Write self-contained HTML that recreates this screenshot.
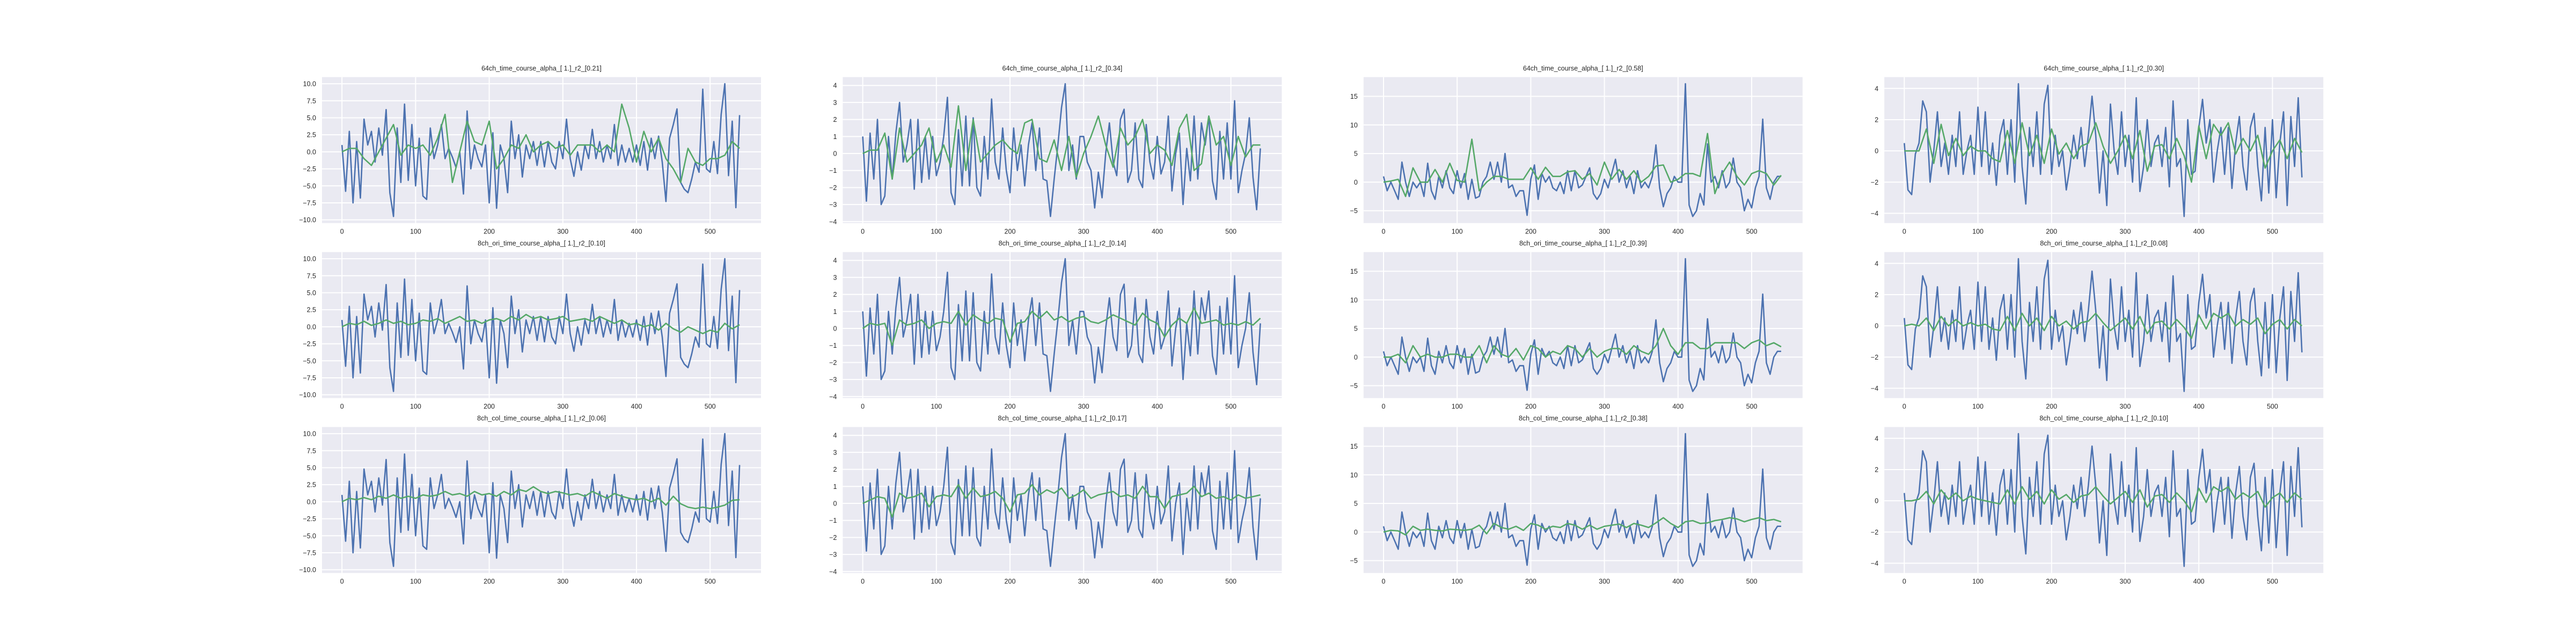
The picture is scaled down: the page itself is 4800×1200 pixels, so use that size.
<!DOCTYPE html>
<html><head><meta charset="utf-8"><style>
html,body{margin:0;padding:0;background:#fff;}
svg{display:block;font-family:"Liberation Sans",sans-serif;}
</style></head><body>
<svg id="fig" width="4800" height="1200" viewBox="0 0 4800 1200" xmlns="http://www.w3.org/2000/svg"></svg>
<script>
// ---- data ----
const titlesRow1 = ["64ch_time_course_alpha_[ 1.]_r2_[0.21]","64ch_time_course_alpha_[ 1.]_r2_[0.34]","64ch_time_course_alpha_[ 1.]_r2_[0.58]","64ch_time_course_alpha_[ 1.]_r2_[0.30]"];
const titlesRow2 = ["8ch_ori_time_course_alpha_[ 1.]_r2_[0.10]","8ch_ori_time_course_alpha_[ 1.]_r2_[0.14]","8ch_ori_time_course_alpha_[ 1.]_r2_[0.39]","8ch_ori_time_course_alpha_[ 1.]_r2_[0.08]"];
const titlesRow3 = ["8ch_col_time_course_alpha_[ 1.]_r2_[0.06]","8ch_col_time_course_alpha_[ 1.]_r2_[0.17]","8ch_col_time_course_alpha_[ 1.]_r2_[0.38]","8ch_col_time_course_alpha_[ 1.]_r2_[0.10]"];
const blueStep = 5;
const greenStep = 10;
const blueCol1 = [1,-5.8,3,-7.5,1.5,-6.8,4.8,1,3,-1.5,3.5,-0.5,6.2,-6,-9.5,3.5,-4.5,7,-4.2,4,-5,2,-6.5,-7,3.5,-1,1,4,-1,0.5,-0.8,-2.3,0,-6.2,6,-2.5,1,-1,-2.2,1,-7.5,2.8,-8.3,1,-1,-6,4.5,-1,2.5,-3.7,1,-1,1.5,-2,1.5,-2.2,1.5,-1.5,-2.5,1.5,-1,4.8,-1,-3.6,0,-2.7,1,-1,3.3,-1,1.5,-1.5,1,-1,4,-2,1,-1.5,0.5,-1.5,1,-2,1.5,-2.7,2,-1,2.3,-1.5,-7.3,2,4,6.3,-4.5,-5.5,-6,-4,-1.5,-3,9.2,-2.5,-3,1.5,-3.2,5.5,10,-3.5,4.5,-8.2,5.4];
const blueCol2 = [1,-2.8,1.2,-1.5,2,-3,-2.5,1,-1.5,1.2,3,-0.5,0.5,2,-2.1,2,-1.7,1,-1.5,1,-1.3,-0.5,1,3.3,-2.3,-3,1.4,-1.9,2.2,-1.9,2.1,-2,-2.5,1,-1.5,3.2,-0.5,-1.5,1.5,-1,-2.3,1.5,-1,0.5,-1.9,0.5,1.8,-1,1.5,-1.5,-1.6,-3.7,-1.5,0.5,2.7,4.1,-1,0.5,-1.5,1,1,-0.5,-1,-3.2,-1.1,-2.6,0,1.8,-0.5,-1.3,2,2.6,-1.7,-1,1.8,-1.5,-2,1.7,-0.5,-1.5,1,-1.2,-0.5,2.2,-2.2,0,1.2,-3,0.3,-1.6,2.2,-1.5,1.8,0.5,2.2,-1.6,-2.7,1.3,-1.5,1.8,-1.5,3.1,-2.3,-1,0,2.1,-1.4,-3.3,0.3];
const blueCol3 = [1,-1.5,0,-1.5,-3,3.5,0,-2.5,0,-1,0,-2.5,3.3,-1.5,-3,1,-1,2,-1,-2,2,-1,1.5,-3,0.5,-2.8,-2.5,0,1,3.5,0.5,3.5,0,5,-1,-0.5,-2.5,-1.5,-1.5,-5.8,0.5,3,-3,1.5,0,1,-1,-1.5,0,-2,2,-1.5,2,-1,-0.5,1,2.5,-2,-3,-2,0.5,-1,1.5,4,0,2,-1,1,-2,2,-1,0,-1,1,6.5,-1,-4.3,-2,-1,1,0,0,17.2,-4,-6,-5,-2,-4,6.7,0,1,-1,2,-1,0,4.2,0,-1,-5,-3,-4.5,-1,1,11,-1,-3,0,1,1];
const blueCol4 = [0.5,-2.5,-2.8,-0.2,0.5,3.2,2.5,-2,0,2.5,-1,0.5,-1.5,1,-1,2.5,-1.5,0,1,-1.5,2.8,-1,2.5,-1.5,0.5,-2.2,1,2,-1.5,2,-2,4.3,-1,-3.4,1.5,-1,2.5,-1.5,3,4.2,-1.5,1,-1,0,-2.5,-1,1,-0.5,1.5,-1,1,3.5,1,-2.7,0,-3.5,3,0,-1.5,2.5,-1,1,-2,3.4,-2.6,-1,2,-1,0.5,1,-1,1.5,-2.3,3.2,-1,-0.5,-4.2,2,-1.5,-1.3,1.5,3.3,0.5,2,-2,0,1.5,-1.5,1.5,-2.4,0.5,2.2,-1,-2.5,1.5,2.4,-1,-3.2,1.5,-2.7,2,-3,0.5,2.5,-3.5,2.2,-1,3.4,-1.7];
const greenR1C1 = [0,0.5,0.5,-1,-2,0,2,4,-0.5,1,0.5,1,-0.5,2,5.5,-4.5,0,4.5,1.5,1,4.5,-2.5,-1,1,0.5,2.5,0,1,1.5,0.5,1,-0.5,1,1,1,0,1,0,7,3.5,-1.5,3,0,2,-1,-2.5,-4.5,0.5,-1.5,-2,-1,-1,-0.5,1.5,0.5];
const greenR2C1 = [0,0.5,0.3,0.8,0.2,0.5,1,0.5,0.8,0.3,0.5,1,0.8,1.2,0.5,1,1.5,0.8,1,0.5,1,1.2,0.8,1.5,1,1.8,1.2,1.5,1,1.2,1.5,0.8,1,1.2,0.8,1.5,1,0.5,1,0.3,0.5,0,0.3,-0.5,0.5,-0.3,-0.8,0,-0.5,-1,-0.5,-0.8,0.5,-0.3,0.3];
const greenR3C1 = [0,0.5,0.3,0.6,0.3,0.8,0.5,1,0.5,0.8,0.5,1,0.8,1,1.5,1,1.2,0.8,1.5,1,1.2,0.8,1.5,1,1.8,1.5,2.2,1.5,1.2,1.5,1.3,1,1.2,0.8,1.5,1,0.5,1.2,0.8,0.5,0.3,0.5,0,0.5,-0.5,0.8,-0.3,-0.8,-1,-0.8,-1,-0.8,-0.5,0.2,0.3];
const greenR1C2 = [0,0.2,0.2,1.2,-1.5,1.5,-0.5,0,0.5,1.5,-0.5,0.5,-0.8,2.8,-1,2,-0.5,0,0.5,0.8,0.3,0,1.8,2,-0.3,-0.5,0.8,-1,1,-1.4,0,1,2.2,0.5,-0.8,1.5,0.5,1,2,0,0.5,0.2,-0.7,1.5,2.3,-1,-0.6,2.2,0.5,1,-0.7,1,-0.2,0.5,0.5];
const greenR2C2 = [0,0.3,0.2,0.3,-1,0.5,0.2,0.3,0.5,0,0.3,0.4,0.3,1,0.2,0.8,0.5,0.3,0.6,0.5,-0.8,0.3,0.4,1,0.6,1,0.5,0.7,0.4,0.6,0.7,0.4,0.3,0.5,0.8,0.6,0.4,0.2,0.9,0.5,0.3,-0.5,0.2,0.6,0.3,1.2,0.3,0.4,0.5,0.2,0.3,0.2,0.4,0.2,0.6];
const greenR3C2 = [0,0.2,0.4,0.3,-0.8,0.6,0.3,0.4,0.6,-0.2,0.4,0.5,0.4,1.1,0.3,0.9,0.4,0.5,0.7,0.3,-0.5,0.5,0.6,1.1,0.5,0.8,0.6,0.9,0.3,0.5,0.8,0.3,0.5,0.6,0.7,0.4,0.5,0.3,1,0.4,0.4,-0.3,0.4,0.5,0.6,1,0.4,0.6,0.3,0.4,0.2,0.5,0.3,0.4,0.5];
const greenR1C3 = [0,0.2,0.5,-2.5,2.5,0,0,2.2,0,3.3,0.3,0,7.5,-1.5,0,1,1,0.5,0.5,0.5,2.5,0.5,2.6,1,1,1.8,2,0.5,1.5,-0.5,3.5,0.5,2.2,0.5,2,0,1,2.8,3,0,0.5,1.5,1.5,1,8.5,-2,1.5,3.5,1,-0.5,1.5,2,1.5,-0.5,1.2];
const greenR2C3 = [0,0,0.5,-1,2,0,0.5,0,0,0.5,0.5,0,0,2,-1,2,0.5,0,1.5,-0.5,2,1.5,0,1,0.5,2,1.5,0,1.5,0,1,1.5,1.5,0.5,2,1,0.5,2,5,2,0.5,2.5,2.5,1.5,1.5,2.5,2.5,2.5,2.5,1.5,2.5,3,2,2.5,1.8];
const greenR3C3 = [0,0.3,0.2,-0.5,1,0.3,0.5,0.3,0.2,0.5,0.4,0.3,0.5,1.2,-0.3,1.5,0.8,0.5,1,0.3,1.5,1.2,0.5,1,0.8,1.5,1.2,0.5,1.2,0.5,1,1.2,1.4,0.8,1.5,1.2,0.8,1.6,2.5,1.5,0.8,1.8,2,1.5,1.6,2,2.2,2.5,2.3,1.8,2.2,2.5,2,2.2,1.8];
const greenR1C4 = [0,0,0,1.4,-0.8,1.7,-0.3,0.8,-0.3,0.3,0,0,-0.5,-0.7,1.3,-0.8,1.8,-0.3,1,-0.8,1.4,-0.2,0.5,-0.5,0.3,0.5,1.8,0.3,-0.8,0,1,-0.5,1.3,-1.3,0.3,0.4,-0.5,0.8,-0.3,-2,1.6,-0.5,1.7,1,1.8,-0.2,0.8,0,1,-1.1,0,0.7,-0.5,0.8,-0.1];
const greenR2C4 = [0,0.1,0,0.5,-0.3,0.6,0,0.4,0,0.2,0,0.1,-0.2,-0.3,0.6,-0.3,0.8,0,0.5,-0.3,0.6,0,0.3,-0.2,0.2,0.3,0.8,0.2,-0.3,0.1,0.5,-0.2,0.6,-0.5,0.2,0.3,-0.2,0.4,-0.1,-0.8,0.7,-0.2,0.8,0.5,0.8,0,0.4,0.1,0.5,-0.5,0.1,0.4,-0.2,0.4,0];
const greenR3C4 = [0,0,0.1,0.6,-0.2,0.7,0.1,0.5,0,0.3,0.1,0,-0.1,-0.2,0.7,-0.2,0.9,0.1,0.6,-0.2,0.7,0.1,0.4,-0.1,0.3,0.4,0.9,0.3,-0.2,0.2,0.6,-0.1,0.7,-0.4,0.3,0.4,-0.1,0.5,0,-0.7,0.8,-0.1,0.9,0.6,0.9,0.1,0.5,0.2,0.6,-0.4,0.2,0.5,-0.1,0.5,0.1];
const yTicksCol1 = [-10,-7.5,-5,-2.5,0,2.5,5,7.5,10];
const yTicksCol2 = [-4,-3,-2,-1,0,1,2,3,4];
const yTicksCol3 = [-5,0,5,10,15];
const yTicksCol4 = [-4,-2,0,2,4];
const yTickLabelsCol1 = ["\u221210.0","\u22127.5","\u22125.0","\u22122.5","0.0","2.5","5.0","7.5","10.0"];
const yTickLabelsCol2 = ["\u22124","\u22123","\u22122","\u22121","0","1","2","3","4"];
const yTickLabelsCol3 = ["\u22125","0","5","10","15"];
const yTickLabelsCol4 = ["\u22124","\u22122","0","2","4"];
const xTicks = [0,100,200,300,400,500];

// ---- layout ----
const NS = "http://www.w3.org/2000/svg";
const svg = document.getElementById('fig');
const AX_W = 818, AX_H = 272;
const colLeft = [600, 1570.4, 2540.8, 3511.2];
const rowTop = [143.7, 469.7, 795.7];
const blues = [blueCol1, blueCol2, blueCol3, blueCol4];
const greens = [[greenR1C1,greenR1C2,greenR1C3,greenR1C4],[greenR2C1,greenR2C2,greenR2C3,greenR2C4],[greenR3C1,greenR3C2,greenR3C3,greenR3C4]];
const titles = [titlesRow1, titlesRow2, titlesRow3];
const yTicks = [yTicksCol1, yTicksCol2, yTicksCol3, yTicksCol4];
const yLabels = [yTickLabelsCol1, yTickLabelsCol2, yTickLabelsCol3, yTickLabelsCol4];
const nPts = blueCol1.length;
const xMaxData = (nPts - 1) * blueStep + 2;
const xMin = -0.05 * xMaxData, xMax = xMaxData * 1.05;

function mk(tag, attrs, parent) {
  const e = document.createElementNS(NS, tag);
  for (const k in attrs) e.setAttribute(k, attrs[k]);
  parent.appendChild(e);
  return e;
}

for (let r = 0; r < 3; r++) {
  for (let c = 0; c < 4; c++) {
    const L = colLeft[c], T = rowTop[r];
    const blue = blues[c], green = greens[r][c];
    const all = blue.concat(green);
    const dmin = Math.min(...all), dmax = Math.max(...all);
    const m = (dmax - dmin) * 0.05;
    const yMin = dmin - m, yMax = dmax + m;
    const sx = v => L + (v - xMin) / (xMax - xMin) * AX_W;
    const sy = v => T + (yMax - v) / (yMax - yMin) * AX_H;

    const g = mk('g', {}, svg);
    
    
    const bg = mk('rect', {x:L, y:T, width:AX_W, height:AX_H, fill:'#EAEAF2'}, g);
    
    
    const cid = 'clip' + r + c;
    const cp = mk('clipPath', {id:cid}, g);
    mk('rect', {x:L, y:T, width:AX_W, height:AX_H}, cp);

    yTicks[c].forEach((t, i) => {
      const y = sy(t);
      const gl = mk('line', {x1:L, x2:L+AX_W, y1:y, y2:y, stroke:'#fff', 'stroke-width':2}, g);
      
      
      const tl = mk('text', {x:L-11, y:y+4.5, 'text-anchor':'end', 'font-size':12.5, fill:'#262626'}, g);
      
      
      tl.textContent = yLabels[c][i];
    });
    xTicks.forEach(t => {
      const x = sx(t);
      const gl = mk('line', {x1:x, x2:x, y1:T, y2:T+AX_H, stroke:'#fff', 'stroke-width':2}, g);
      
      
      const tl = mk('text', {x:x, y:T+AX_H+20, 'text-anchor':'middle', 'font-size':12.5, fill:'#262626'}, g);
      
      
      tl.textContent = String(t);
    });

    const bp = blue.map((v, i) => sx(i * blueStep).toFixed(1) + ',' + sy(v).toFixed(1)).join(' ');
    const bl = mk('polyline', {points:bp, fill:'none', stroke:'#4C72B0', 'stroke-width':2.6, 'stroke-linejoin':'round', 'clip-path':'url(#'+cid+')'}, g);
    
    
    const gp = green.map((v, i) => sx(Math.min(i * greenStep, xMaxData)).toFixed(1) + ',' + sy(v).toFixed(1)).join(' ');
    const gn = mk('polyline', {points:gp, fill:'none', stroke:'#55A868', 'stroke-width':2.6, 'stroke-linejoin':'round', 'clip-path':'url(#'+cid+')'}, g);
    
    

    const tt = mk('text', {x:L+AX_W/2, y:T-12, 'text-anchor':'middle', 'font-size':12.5, fill:'#262626'}, g);
    
    
    tt.setAttribute('xml:space', 'preserve');
    tt.style.whiteSpace = 'pre';
    tt.textContent = titles[r][c];
  }
}
</script>
</body></html>
